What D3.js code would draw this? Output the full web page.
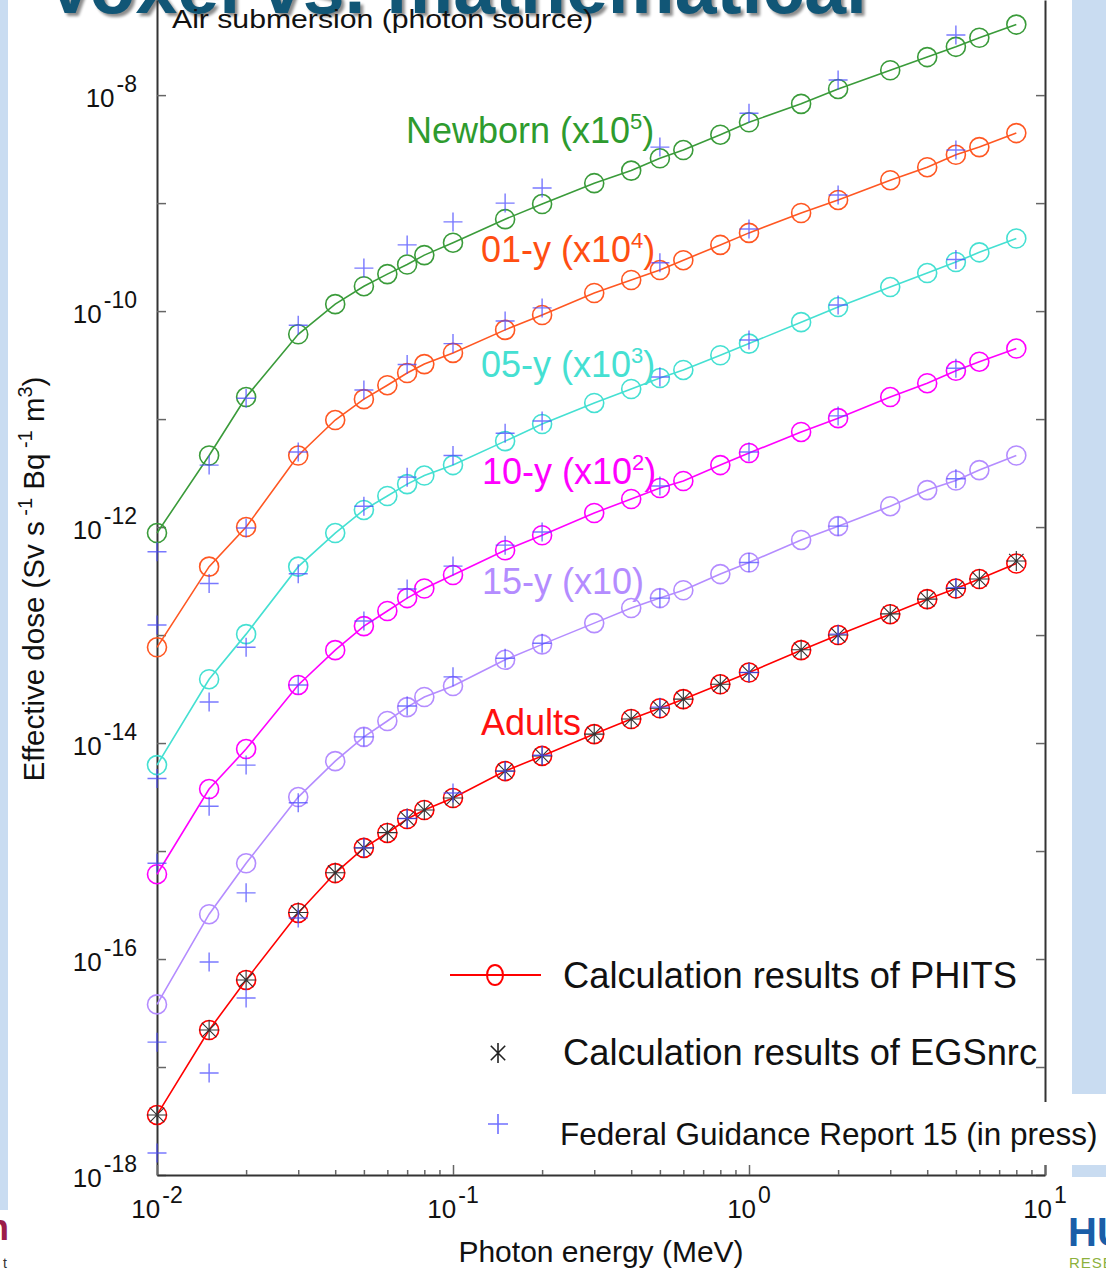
<!DOCTYPE html>
<html><head><meta charset="utf-8">
<script src="https://cdn.jsdelivr.net/npm/d3@7"></script>
<style>
body{margin:0;background:#fff;}
svg{display:block;font-family:"Liberation Sans",Arial,Helvetica,sans-serif;}
</style>
</head><body>
<svg id="c" width="1106" height="1268"></svg>
<script>
// ---------------- DATA ----------------
const energies = [0.01,0.015,0.02,0.03,0.04,0.05,0.06,0.07,0.08,0.1,0.15,0.2,0.3,0.4,0.5,0.6,0.8,1,1.5,2,3,4,5,6,8];
const fgrEnergies = [0.01,0.015,0.02,0.03,0.05,0.07,0.1,0.15,0.2,0.5,1,2,5];

const groups = ["Newborn","01-y","05-y","10-y","15-y","Adults"];
const scaleFactors = [1e5,1e4,1e3,1e2,10,1];
const labelMain = ["Newborn (x10","01-y (x10","05-y (x10","10-y (x10","15-y (x10)","Adults"];
const labelSup  = ["5","4","3","2","",""];
const labelTail = [")",")",")",")","",""];

// PHITS effective dose (Sv s-1 Bq-1 m3), unscaled
const phitsNewborn = [8.8e-18,4.6e-17,1.6e-16,6.1e-16,1.16e-15,1.70e-15,2.2e-15,2.7e-15,3.3e-15,4.3e-15,7.1e-15,9.8e-15,1.53e-14,2.0e-14,2.6e-14,3.1e-14,4.3e-14,5.6e-14,8.3e-14,1.14e-13,1.70e-13,2.25e-13,2.8e-13,3.4e-13,4.5e-13];
const phits01y     = [7.7e-18,4.3e-17,1.0e-16,4.6e-16,9.8e-16,1.53e-15,2.06e-15,2.67e-15,3.23e-15,4.1e-15,6.7e-15,9.2e-15,1.47e-14,1.94e-14,2.4e-14,2.96e-14,4.1e-14,5.3e-14,8.1e-14,1.07e-13,1.63e-13,2.15e-13,2.8e-13,3.3e-13,4.45e-13];
const phits05y     = [6.25e-18,3.9e-17,1.02e-16,4.3e-16,8.8e-16,1.44e-15,1.94e-15,2.5e-15,3.0e-15,3.75e-15,6.25e-15,9.0e-15,1.41e-14,1.9e-14,2.4e-14,2.85e-14,3.9e-14,5.0e-14,7.9e-14,1.09e-13,1.67e-13,2.25e-13,2.85e-13,3.5e-13,4.7e-13];
const phits10y     = [6.1e-18,3.75e-17,8.8e-17,3.45e-16,7.25e-16,1.21e-15,1.67e-15,2.2e-15,2.7e-15,3.6e-15,6.1e-15,8.4e-15,1.35e-14,1.82e-14,2.3e-14,2.67e-14,3.75e-14,4.85e-14,7.6e-14,1.02e-13,1.6e-13,2.15e-13,2.8e-13,3.4e-13,4.5e-13];
const phits15y     = [3.8e-18,2.6e-17,7.7e-17,3.16e-16,6.8e-16,1.14e-15,1.6e-15,2.15e-15,2.67e-15,3.37e-15,5.9e-15,8.2e-15,1.29e-14,1.78e-14,2.2e-14,2.6e-14,3.67e-14,4.7e-14,7.6e-14,1.02e-13,1.56e-13,2.2e-13,2.7e-13,3.37e-13,4.6e-13];
const phitsAdults  = [3.6e-18,2.2e-17,6.4e-17,2.67e-16,6.25e-16,1.07e-15,1.47e-15,1.98e-15,2.4e-15,3.1e-15,5.5e-15,7.6e-15,1.21e-14,1.67e-14,2.1e-14,2.55e-14,3.5e-14,4.5e-14,7.25e-14,1.0e-13,1.56e-13,2.15e-13,2.7e-13,3.3e-13,4.6e-13];

// EGSnrc (adults only)
const egsAdults = [3.6e-18,2.2e-17,6.4e-17,2.7e-16,6.3e-16,1.07e-15,1.48e-15,2.0e-15,2.4e-15,3.1e-15,5.5e-15,7.6e-15,1.21e-14,1.67e-14,2.1e-14,2.55e-14,3.5e-14,4.5e-14,7.3e-14,1.0e-13,1.57e-13,2.15e-13,2.7e-13,3.3e-13,4.85e-13];

// Federal Guidance Report 15
const fgrNewborn = [5.9e-18,3.75e-17,1.56e-16,7.4e-16,2.5e-15,4.1e-15,6.7e-15,1.0e-14,1.38e-14,3.3e-14,6.8e-14,1.38e-13,3.6e-13];
const fgr01y     = [1.24e-17,3.0e-17,9.8e-17,4.95e-16,1.86e-15,3.2e-15,5.0e-15,8.1e-15,1.07e-14,2.8e-14,5.75e-14,1.19e-13,3.1e-13];
const fgr05y     = [4.7e-18,2.4e-17,7.7e-17,3.7e-16,1.56e-15,2.9e-15,4.6e-15,7.4e-15,9.6e-15,2.45e-14,5.4e-14,1.14e-13,3.0e-13];
const fgr10y     = [7.7e-18,2.6e-17,6.25e-17,3.45e-16,1.35e-15,2.67e-15,4.35e-15,6.8e-15,9.0e-15,2.4e-14,4.95e-14,1.07e-13,2.96e-13];
const fgr15y     = [1.7e-18,9.4e-18,4.1e-17,2.8e-16,1.14e-15,2.2e-15,4.1e-15,6.1e-15,8.4e-15,2.2e-14,4.7e-14,1.02e-13,2.8e-13];
const fgrAdults  = [1.6e-18,8.8e-18,4.35e-17,2.4e-16,1.07e-15,2.0e-15,3.45e-15,5.5e-15,7.7e-15,2.15e-14,4.5e-14,1.02e-13,2.75e-13];

const phitsSeries = [phitsNewborn,phits01y,phits05y,phits10y,phits15y,phitsAdults];
const fgrSeries   = [fgrNewborn,fgr01y,fgr05y,fgr10y,fgr15y,fgrAdults];

const xTickLabels = [{v:0.01,sup:"-2"},{v:0.1,sup:"-1"},{v:1,sup:"0"},{v:10,sup:"1"}];
const yExponents = [-18,-17,-16,-15,-14,-13,-12,-11,-10,-9,-8];
const yLabelExponents = [-18,-16,-14,-12,-10,-8];

const legendLabels = ["Calculation results of PHITS","Calculation results of EGSnrc","Federal Guidance Report 15 (in press)"];

// ---------------- STYLE ----------------
const colors = ["#3a9b3a","#ff5722","#45e0d2","#ff00ff","#b48cff","#ff0000"];
const labelColors = ["#2e9b2e","#ff4e12","#45e0d2","#ff00ff","#b48cff","#ff1010"];
const plusColor = "#4b4bff";

const svg = d3.select("#c");

// background slide pieces
svg.append("rect").attr("x",0).attr("y",0).attr("width",8).attr("height",1210).attr("fill","#c9dcf1");
svg.append("rect").attr("x",1072).attr("y",0).attr("width",34).attr("height",1177).attr("fill","#c9dcf1");

// Title (clipped at top)
const defs = svg.append("defs");
defs.append("filter").attr("id","blur").append("feGaussianBlur").attr("stdDeviation",1.5);
svg.append("text").attr("x",48).attr("y",16).attr("font-size",76).attr("font-weight","bold")
  .attr("textLength",822).attr("lengthAdjust","spacingAndGlyphs")
  .attr("fill","#000").attr("opacity",0.45).attr("filter","url(#blur)").text("Voxel vs. mathematical");
svg.append("text").attr("x",45).attr("y",13).attr("font-size",76).attr("font-weight","bold")
  .attr("textLength",822).attr("lengthAdjust","spacingAndGlyphs")
  .attr("fill","#115676").text("Voxel vs. mathematical");

// scales
const x = d3.scaleLog().domain([0.01,10]).range([157,1045]);
const y = d3.scaleLog().domain([1e-18, 7.6e-8]).range([1175,0]);
const yTicks = yExponents.map(e => Math.pow(10,e));

// axes
const axisColor = "#333";
const gL = svg.append("g").attr("transform","translate(157,0)")
  .call(d3.axisLeft(y).tickValues(yTicks).tickSizeInner(-9).tickSizeOuter(0).tickFormat(()=>""));
const gR = svg.append("g").attr("transform","translate(1045,0)")
  .call(d3.axisRight(y).tickValues(yTicks).tickSizeInner(-9).tickSizeOuter(0).tickFormat(()=>""));
const xMajor = [0.01,0.1,1,10];
const xMinor = [];
[0.01,0.1,1].forEach(d => { for (let k=2;k<=9;k++) xMinor.push(d*k); });
const gB = svg.append("g").attr("transform","translate(0,1175)")
  .call(d3.axisBottom(x).tickValues(xMajor).tickSizeInner(-10).tickSizeOuter(0).tickFormat(()=>""));
const gBm = svg.append("g").attr("transform","translate(0,1175)")
  .call(d3.axisBottom(x).tickValues(xMinor).tickSizeInner(-5).tickSizeOuter(0).tickFormat(()=>""));
gBm.select(".domain").remove();
[gL,gR,gB,gBm].forEach(g => {
  g.selectAll(".tick line").attr("stroke","#666").attr("stroke-width",1.5);
  g.select(".domain").attr("stroke",axisColor).attr("stroke-width",2);
});

// y tick labels
yLabelExponents.forEach(e => {
  const t = svg.append("text").attr("x",137).attr("y",y(Math.pow(10,e))+12)
    .attr("text-anchor","end").attr("fill","#111");
  t.append("tspan").attr("font-size",26).text("10");
  t.append("tspan").attr("font-size",23).attr("dx",2).attr("dy",-15).text(String(e));
});
// x tick labels
xTickLabels.forEach(d => {
  const t = svg.append("text").attr("x",x(d.v)).attr("y",1218)
    .attr("text-anchor","middle").attr("fill","#111");
  t.append("tspan").attr("font-size",26).text("10");
  t.append("tspan").attr("font-size",23).attr("dx",2).attr("dy",-15).text(d.sup);
});

// axis titles
svg.append("text").attr("x",601).attr("y",1262).attr("text-anchor","middle")
  .attr("font-size",30).attr("fill","#111").text("Photon energy (MeV)");
const yt = svg.append("text").attr("transform","translate(44,579) rotate(-90)")
  .attr("text-anchor","middle").attr("font-size",29.5).attr("fill","#111");
yt.append("tspan").text("Effective dose (Sv s");
yt.append("tspan").attr("font-size",20).attr("dy",-12).text(" -1");
yt.append("tspan").attr("dy",12).text(" Bq");
yt.append("tspan").attr("font-size",20).attr("dy",-12).text(" -1");
yt.append("tspan").attr("dy",12).text(" m");
yt.append("tspan").attr("font-size",20).attr("dy",-12).text("3");
yt.append("tspan").attr("dy",12).text(")");

svg.append("text").attr("x",172).attr("y",28).attr("font-size",26).attr("fill","#111")
  .attr("textLength",421).attr("lengthAdjust","spacingAndGlyphs").text("Air submersion (photon source)");

// ---------------- DATA MARKS ----------------
const line = d3.line().x(d => x(d.e)).y(d => y(d.v));
const plot = svg.append("g");

function plusPath(cx, cy, s) { return `M${cx-s},${cy}H${cx+s}M${cx},${cy-s}V${cy+s}`; }
function starPath(cx, cy, s, withH) {
  const d = s*0.72;
  let p = `M${cx},${cy-s}V${cy+s}M${cx-d},${cy-d}L${cx+d},${cy+d}M${cx-d},${cy+d}L${cx+d},${cy-d}`;
  if (withH) p += `M${cx-s},${cy}H${cx+s}`;
  return p;
}

groups.forEach((g,i) => {
  const pts = energies.map((e,j) => ({e, v: phitsSeries[i][j]*scaleFactors[i]}));
  plot.append("path").datum(pts).attr("d",line).attr("fill","none")
    .attr("stroke",colors[i]).attr("stroke-width",1.6);
  plot.selectAll(null).data(pts).enter().append("circle")
    .attr("cx",d=>x(d.e)).attr("cy",d=>y(d.v)).attr("r",9.5)
    .attr("fill","none").attr("stroke",colors[i]).attr("stroke-width",1.6);
});

// EGSnrc asterisks (adults)
plot.selectAll(null).data(energies.map((e,j)=>({e, v: egsAdults[j]}))).enter().append("path")
  .attr("d",d=>starPath(x(d.e),y(d.v),10,true)).attr("stroke","#333").attr("stroke-width",1.1).attr("fill","none");

// FGR15 pluses
groups.forEach((g,i) => {
  const pts = fgrEnergies.map((e,j) => ({e, v: fgrSeries[i][j]*scaleFactors[i]}));
  plot.selectAll(null).data(pts).enter().append("path")
    .attr("d",d=>plusPath(x(d.e),y(d.v),9.5)).attr("stroke",plusColor).attr("stroke-opacity",0.75)
    .attr("stroke-width",1.4).attr("fill","none");
});

// series labels
const labelPos = [[406,143],[481,262],[481,377],[482,484],[482,594],[481,735]];
groups.forEach((g,i) => {
  const t = svg.append("text").attr("x",labelPos[i][0]).attr("y",labelPos[i][1])
    .attr("font-size",36).attr("fill",labelColors[i]);
  t.append("tspan").text(labelMain[i]);
  if (labelSup[i]) {
    t.append("tspan").attr("font-size",22).attr("dy",-14).text(labelSup[i]);
    t.append("tspan").attr("dy",14).text(labelTail[i]);
  }
});

// ---------------- LEGEND ----------------
svg.append("rect").attr("x",548).attr("y",1102).attr("width",558).attr("height",63).attr("fill","#fff");
svg.append("rect").attr("x",1050).attr("y",1094).attr("width",56).attr("height",71).attr("fill","#fff");
const lg = svg.append("g");
lg.append("line").attr("x1",450).attr("x2",541).attr("y1",975).attr("y2",975).attr("stroke","#ff0000").attr("stroke-width",2);
lg.append("ellipse").attr("cx",495).attr("cy",975).attr("rx",8).attr("ry",10).attr("fill","none").attr("stroke","#ff0000").attr("stroke-width",2);
lg.append("text").attr("x",563).attr("y",988).attr("font-size",36.3).attr("fill","#111").text(legendLabels[0]);
lg.append("path").attr("d",starPath(498,1053,10,false)).attr("stroke","#222").attr("stroke-width",1.6).attr("fill","none");
lg.append("text").attr("x",563).attr("y",1065).attr("font-size",36.3).attr("fill","#111").text(legendLabels[1]);
lg.append("path").attr("d",plusPath(498,1124,10)).attr("stroke",plusColor).attr("stroke-opacity",0.8).attr("stroke-width",1.6).attr("fill","none");
lg.append("text").attr("x",560).attr("y",1145).attr("font-size",31.5).attr("fill","#111").text(legendLabels[2]);

// slide fragments at bottom
svg.append("text").attr("x",9).attr("y",1240).attr("text-anchor","end").attr("font-size",36)
  .attr("font-weight","bold").attr("fill","#9b1c4a").text("n");
svg.append("text").attr("x",7).attr("y",1268).attr("text-anchor","end").attr("font-size",14)
  .attr("fill","#333").text("t");
svg.append("text").attr("x",1068).attr("y",1246).attr("font-size",40)
  .attr("font-weight","bold").attr("fill","#1a5ea8").text("HU");
svg.append("text").attr("x",1069).attr("y",1268).attr("font-size",15)
  .attr("fill","#8db13c").attr("letter-spacing",1).text("RESE");
</script>
</body></html>
